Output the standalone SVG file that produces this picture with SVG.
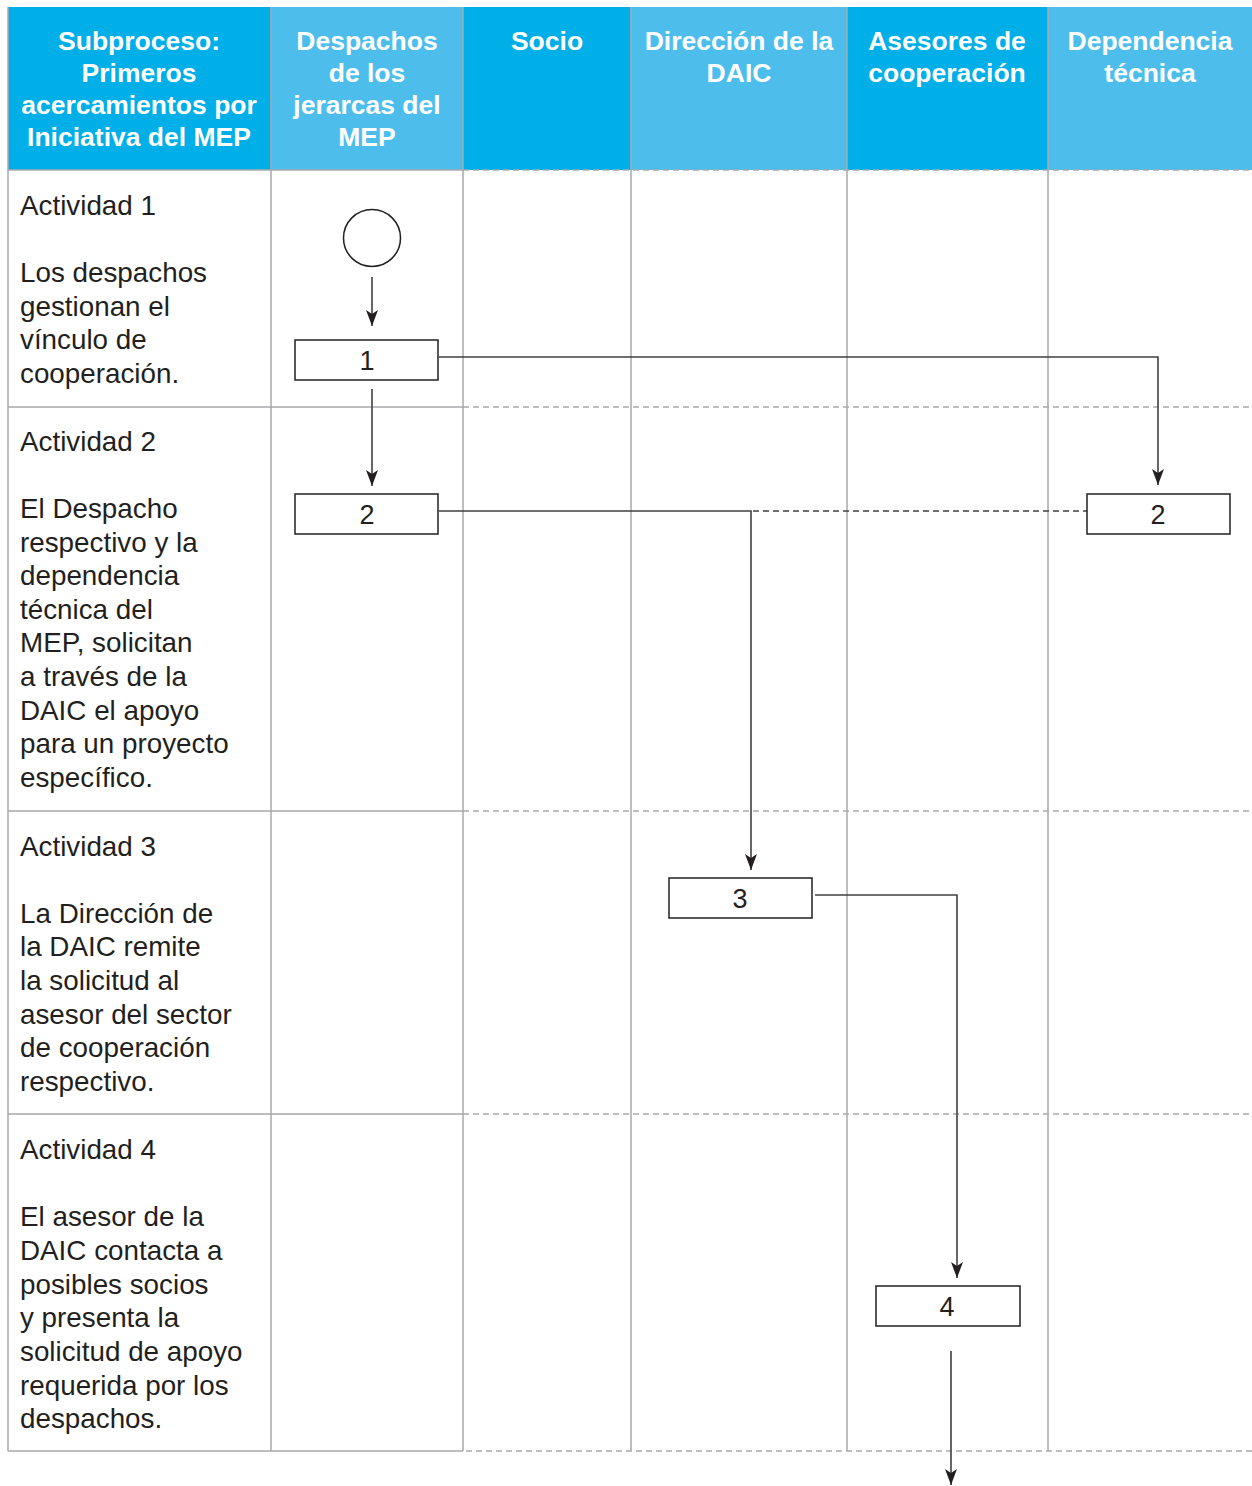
<svg xmlns="http://www.w3.org/2000/svg" width="1252" height="1486" viewBox="0 0 1252 1486">
  <style>
    .hd { fill: #ffffff; font-family: "Liberation Sans", Arial, sans-serif; font-weight: bold; font-size: 26.5px; text-anchor: middle; }
    .bd { fill: #231f20; font-family: "Liberation Sans", Arial, sans-serif; font-size: 27.8px; }
    .num { fill: #231f20; font-family: "Liberation Sans", Arial, sans-serif; font-size: 27px; text-anchor: middle; }
    .grid { stroke: #a7a9ac; stroke-width: 1.5; fill: none; }
    .dash { stroke: #a7a9ac; stroke-width: 1.5; fill: none; stroke-dasharray: 6 4; }
    .box { fill: #ffffff; stroke: #231f20; stroke-width: 1.5; }
    .con { stroke: #414042; stroke-width: 1.6; fill: none; }
    .con-dash { stroke: #414042; stroke-width: 1.6; fill: none; stroke-dasharray: 6 4; }
  </style>
  <defs>
    <marker id="arrowDown" viewBox="0 0 12 16" refX="6" refY="16" markerWidth="12" markerHeight="16" markerUnits="userSpaceOnUse" orient="0">
      <path d="M0,0 L6,4 L12,0 L6,16 Z" fill="#231f20"/>
    </marker>
  </defs>

  <rect x="0" y="0" width="1252" height="1486" fill="#ffffff"/>

  <!-- header band -->
  <g id="header">
    <rect x="8" y="7" width="263" height="163" fill="#00aee8"/>
    <rect x="271" y="7" width="192" height="163" fill="#4dbeec"/>
    <rect x="463" y="7" width="168" height="163" fill="#00aee8"/>
    <rect x="631" y="7" width="216" height="163" fill="#4dbeec"/>
    <rect x="847" y="7" width="201" height="163" fill="#00aee8"/>
    <rect x="1048" y="7" width="204" height="163" fill="#4dbeec"/>

    <text class="hd" x="139" y="50">Subproceso:</text>
    <text class="hd" x="139" y="82">Primeros</text>
    <text class="hd" x="139" y="114">acercamientos por</text>
    <text class="hd" x="139" y="146">Iniciativa del MEP</text>

    <text class="hd" x="367" y="50">Despachos</text>
    <text class="hd" x="367" y="82">de los</text>
    <text class="hd" x="367" y="114">jerarcas del</text>
    <text class="hd" x="367" y="146">MEP</text>

    <text class="hd" x="547" y="50">Socio</text>

    <text class="hd" x="739" y="50">Dirección de la</text>
    <text class="hd" x="739" y="82">DAIC</text>

    <text class="hd" x="947" y="50">Asesores de</text>
    <text class="hd" x="947" y="82">cooperación</text>

    <text class="hd" x="1150" y="50">Dependencia</text>
    <text class="hd" x="1150" y="82">técnica</text>
  </g>

  <!-- lane grid -->
  <g id="grid">
    <line class="grid" x1="8" y1="7" x2="8" y2="1451"/>
    <line class="grid" x1="271" y1="7" x2="271" y2="1451"/>
    <line class="grid" x1="463" y1="7" x2="463" y2="1451"/>
    <line class="grid" x1="631" y1="7" x2="631" y2="1451"/>
    <line class="grid" x1="847" y1="7" x2="847" y2="1451"/>
    <line class="grid" x1="1048" y1="7" x2="1048" y2="1451"/>

    <line class="grid" x1="8" y1="170" x2="463" y2="170"/>
    <line class="dash" x1="463" y1="170" x2="1252" y2="170"/>
    <line class="grid" x1="8" y1="407" x2="463" y2="407"/>
    <line class="dash" x1="463" y1="407" x2="1252" y2="407"/>
    <line class="grid" x1="8" y1="811" x2="463" y2="811"/>
    <line class="dash" x1="463" y1="811" x2="1252" y2="811"/>
    <line class="grid" x1="8" y1="1114" x2="463" y2="1114"/>
    <line class="dash" x1="463" y1="1114" x2="1252" y2="1114"/>
    <line class="grid" x1="8" y1="1451" x2="463" y2="1451"/>
    <line class="dash" x1="466" y1="1451" x2="1252" y2="1451"/>
  </g>

  <!-- activity descriptions -->
  <g id="activity-1">
    <text class="bd" x="20" y="215">Actividad 1</text>
    <text class="bd" x="20" y="282">Los despachos</text>
    <text class="bd" x="20" y="316">gestionan el</text>
    <text class="bd" x="20" y="349">vínculo de</text>
    <text class="bd" x="20" y="383">cooperación.</text>
  </g>
  <g id="activity-2">
    <text class="bd" x="20" y="451">Actividad 2</text>
    <text class="bd" x="20" y="518">El Despacho</text>
    <text class="bd" x="20" y="552">respectivo y la</text>
    <text class="bd" x="20" y="585">dependencia</text>
    <text class="bd" x="20" y="619">técnica del</text>
    <text class="bd" x="20" y="652">MEP, solicitan</text>
    <text class="bd" x="20" y="686">a través de la</text>
    <text class="bd" x="20" y="720">DAIC el apoyo</text>
    <text class="bd" x="20" y="753">para un proyecto</text>
    <text class="bd" x="20" y="787">específico.</text>
  </g>
  <g id="activity-3">
    <text class="bd" x="20" y="856">Actividad 3</text>
    <text class="bd" x="20" y="923">La Dirección de</text>
    <text class="bd" x="20" y="956">la DAIC remite</text>
    <text class="bd" x="20" y="990">la solicitud al</text>
    <text class="bd" x="20" y="1024">asesor del sector</text>
    <text class="bd" x="20" y="1057">de cooperación</text>
    <text class="bd" x="20" y="1091">respectivo.</text>
  </g>
  <g id="activity-4">
    <text class="bd" x="20" y="1159">Actividad 4</text>
    <text class="bd" x="20" y="1226">El asesor de la</text>
    <text class="bd" x="20" y="1260">DAIC contacta a</text>
    <text class="bd" x="20" y="1294">posibles socios</text>
    <text class="bd" x="20" y="1327">y presenta la</text>
    <text class="bd" x="20" y="1361">solicitud de apoyo</text>
    <text class="bd" x="20" y="1395">requerida por los</text>
    <text class="bd" x="20" y="1428">despachos.</text>
  </g>

  <!-- connectors -->
  <g id="connectors">
    <line class="con" x1="372" y1="277" x2="372" y2="326" marker-end="url(#arrowDown)"/>
    <polyline class="con" points="439,357 1158,357 1158,485" marker-end="url(#arrowDown)"/>
    <line class="con" x1="372" y1="389" x2="372" y2="486" marker-end="url(#arrowDown)"/>
    <polyline class="con" points="439,511 751,511 751,870" marker-end="url(#arrowDown)"/>
    <line class="con-dash" x1="753" y1="511" x2="1087" y2="511"/>
    <polyline class="con" points="815,895 957,895 957,1278" marker-end="url(#arrowDown)"/>
    <line class="con" x1="951" y1="1351" x2="951" y2="1485" marker-end="url(#arrowDown)"/>
  </g>

  <!-- flow nodes -->
  <g id="start">
    <circle cx="372" cy="238" r="28.5" fill="#ffffff" stroke="#231f20" stroke-width="1.5"/>
  </g>
  <g id="step-1">
    <rect class="box" x="295" y="340" width="143" height="40"/>
    <text class="num" x="367" y="370">1</text>
  </g>
  <g id="step-2-despachos">
    <rect class="box" x="295" y="494" width="143" height="40"/>
    <text class="num" x="367" y="524">2</text>
  </g>
  <g id="step-2-dependencia">
    <rect class="box" x="1087" y="494" width="143" height="40"/>
    <text class="num" x="1158" y="524">2</text>
  </g>
  <g id="step-3">
    <rect class="box" x="669" y="878" width="143" height="40"/>
    <text class="num" x="740" y="908">3</text>
  </g>
  <g id="step-4">
    <rect class="box" x="876" y="1286" width="144" height="40"/>
    <text class="num" x="947" y="1316">4</text>
  </g>
</svg>
